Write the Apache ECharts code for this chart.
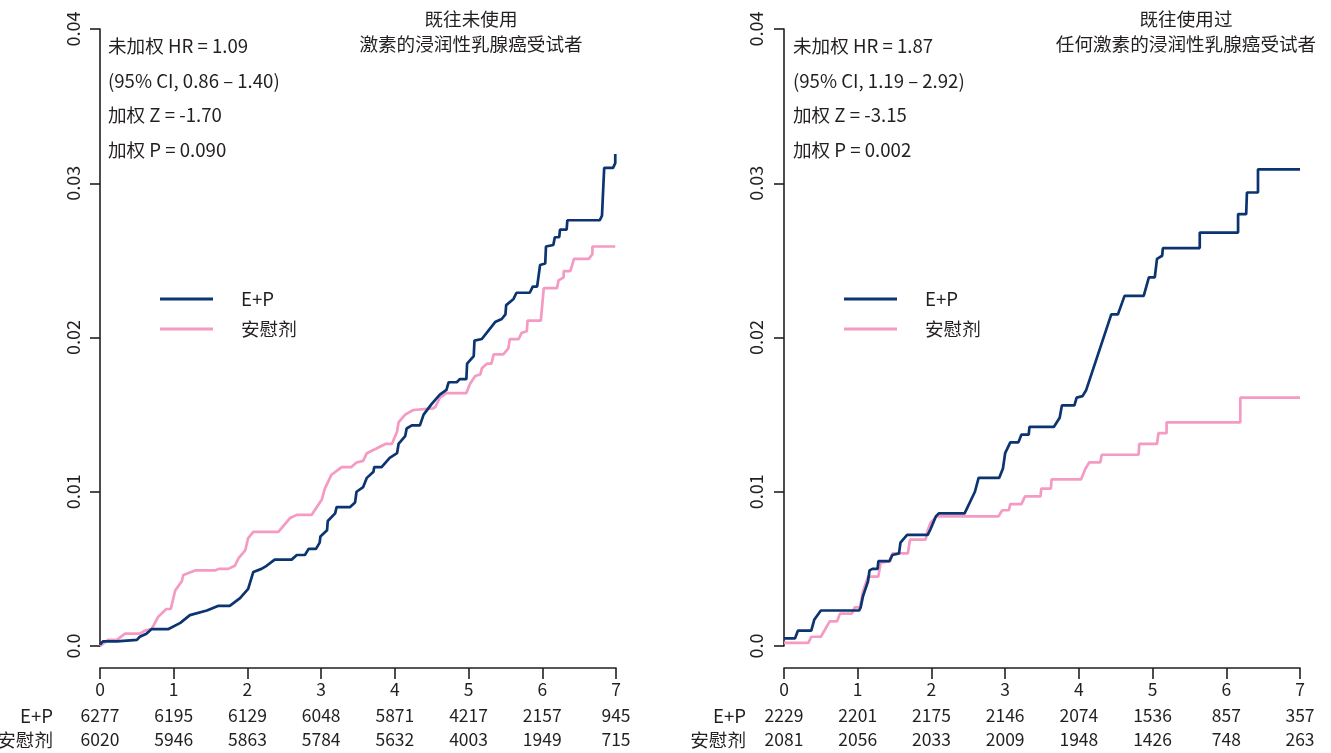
<!DOCTYPE html>
<html>
<head>
<meta charset="utf-8">
<script src="https://cdn.jsdelivr.net/npm/echarts@6/dist/echarts.min.js"></script>
<style>
html,body{margin:0;padding:0;background:#fff;}
#c{width:1331px;height:753px;}
</style>
</head>
<body>
<div id="c"></div>
<script>
// ---- data ----
var years = [0, 1, 2, 3, 4, 5, 6, 7];
var yTicks = [0, 0.01, 0.02, 0.03, 0.04];
var seriesNames = ['E+P', '安慰剂'];

var leftTitle = ['既往未使用', '激素的浸润性乳腺癌受试者'];
var rightTitle = ['既往使用过', '任何激素的浸润性乳腺癌受试者'];
var leftStats = ['未加权 HR = 1.09', '(95% CI, 0.86 – 1.40)', '加权 Z = -1.70', '加权 P = 0.090'];
var rightStats = ['未加权 HR = 1.87', '(95% CI, 1.19 – 2.92)', '加权 Z = -3.15', '加权 P = 0.002'];

var leftRiskEP = [6277, 6195, 6129, 6048, 5871, 4217, 2157, 945];
var leftRiskPL = [6020, 5946, 5863, 5784, 5632, 4003, 1949, 715];
var rightRiskEP = [2229, 2201, 2175, 2146, 2074, 1536, 857, 357];
var rightRiskPL = [2081, 2056, 2033, 2009, 1948, 1426, 748, 263];

var leftEP = [[0,0.0001],[0.04,0.0003],[0.23,0.0003],[0.5,0.0004],[0.54,0.0006],[0.63,0.0008],[0.70,0.0011],[0.93,0.0011],[1.09,0.0015],[1.22,0.0020],[1.45,0.0023],[1.6,0.0026],[1.76,0.0026],[1.9,0.0031],[2.01,0.0037],[2.08,0.0048],[2.19,0.0050],[2.26,0.0052],[2.37,0.0056],[2.6,0.0056],[2.67,0.0059],[2.78,0.0059],[2.83,0.0063],[2.93,0.0063],[2.98,0.0067],[2.99,0.0071],[3.08,0.0075],[3.09,0.0081],[3.19,0.0086],[3.21,0.0090],[3.39,0.0090],[3.46,0.0093],[3.48,0.0100],[3.57,0.0103],[3.62,0.0109],[3.71,0.0113],[3.72,0.0116],[3.82,0.0116],[3.93,0.0122],[4.03,0.0125],[4.05,0.0131],[4.14,0.0136],[4.16,0.0141],[4.23,0.0143],[4.34,0.0143],[4.39,0.0150],[4.5,0.0157],[4.61,0.0163],[4.7,0.0166],[4.73,0.0171],[4.84,0.0171],[4.88,0.0173],[4.97,0.0173],[4.98,0.0183],[5.07,0.0188],[5.08,0.0198],[5.18,0.0199],[5.36,0.0210],[5.45,0.0212],[5.5,0.0215],[5.51,0.0221],[5.61,0.0225],[5.65,0.0229],[5.83,0.0229],[5.87,0.0233],[5.93,0.0233],[5.97,0.0247],[6.04,0.0248],[6.05,0.0259],[6.15,0.0260],[6.17,0.0265],[6.23,0.0265],[6.24,0.0270],[6.33,0.0270],[6.34,0.0276],[6.78,0.0276],[6.81,0.0279],[6.83,0.0300],[6.84,0.0310],[6.96,0.0310],[6.99,0.0313],[6.99,0.0319]];

var leftPL = [[0,0],[0.11,0.0004],[0.23,0.0004],[0.34,0.0008],[0.54,0.0008],[0.61,0.0010],[0.70,0.0011],[0.79,0.0019],[0.9,0.0024],[0.96,0.0024],[1.02,0.0036],[1.11,0.0042],[1.13,0.0046],[1.29,0.0049],[1.56,0.0049],[1.61,0.0050],[1.74,0.0050],[1.83,0.0052],[1.88,0.0057],[1.97,0.0062],[2.01,0.0070],[2.08,0.0074],[2.42,0.0074],[2.58,0.0083],[2.67,0.0085],[2.87,0.0085],[2.94,0.0090],[3.01,0.0095],[3.05,0.0102],[3.14,0.0111],[3.28,0.0116],[3.41,0.0116],[3.48,0.0119],[3.57,0.0120],[3.62,0.0125],[3.75,0.0128],[3.87,0.0131],[3.96,0.0131],[4.03,0.0139],[4.05,0.0145],[4.14,0.0150],[4.25,0.0153],[4.52,0.0154],[4.55,0.0155],[4.61,0.0161],[4.70,0.0164],[4.97,0.0164],[5.02,0.0170],[5.09,0.0175],[5.16,0.0176],[5.18,0.0180],[5.25,0.0183],[5.31,0.0183],[5.34,0.0189],[5.47,0.0189],[5.54,0.0193],[5.56,0.0199],[5.68,0.0199],[5.72,0.0203],[5.79,0.0204],[5.80,0.0211],[5.98,0.0211],[6.02,0.0232],[6.2,0.0232],[6.22,0.0237],[6.29,0.0239],[6.29,0.0243],[6.38,0.0243],[6.43,0.0251],[6.63,0.0251],[6.68,0.0254],[6.68,0.0259],[6.99,0.0259]];

var rightEP = [[0,0.0005],[0.15,0.0005],[0.19,0.0010],[0.37,0.0010],[0.41,0.0017],[0.5,0.0023],[1.02,0.0023],[1.04,0.0025],[1.07,0.0032],[1.14,0.0042],[1.16,0.0049],[1.2,0.0050],[1.27,0.0050],[1.28,0.0055],[1.43,0.0055],[1.47,0.0059],[1.56,0.0060],[1.58,0.0067],[1.67,0.0072],[1.95,0.0072],[1.99,0.0076],[2.06,0.0084],[2.10,0.0086],[2.45,0.0086],[2.59,0.0100],[2.64,0.0109],[2.92,0.0109],[2.97,0.0115],[3.0,0.0125],[3.07,0.0132],[3.18,0.0132],[3.22,0.0137],[3.32,0.0137],[3.33,0.0142],[3.66,0.0142],[3.74,0.0148],[3.77,0.0156],[3.94,0.0156],[3.97,0.0161],[4.05,0.0162],[4.1,0.0166],[4.44,0.0215],[4.53,0.0215],[4.62,0.0227],[4.88,0.0227],[4.95,0.0239],[5.03,0.0239],[5.06,0.0251],[5.13,0.0253],[5.14,0.0258],[5.64,0.0258],[5.64,0.0268],[6.16,0.0268],[6.16,0.0280],[6.27,0.0280],[6.28,0.0294],[6.43,0.0294],[6.43,0.0309],[7.0,0.0309]];

var rightPL = [[0,0.0002],[0.33,0.0002],[0.37,0.0006],[0.5,0.0006],[0.62,0.0016],[0.72,0.0016],[0.76,0.0021],[0.92,0.0021],[0.96,0.0025],[1.03,0.0025],[1.07,0.0035],[1.14,0.0045],[1.28,0.0045],[1.31,0.0054],[1.44,0.0055],[1.47,0.0060],[1.68,0.0060],[1.71,0.0069],[1.92,0.0069],[1.95,0.0075],[1.99,0.0080],[2.07,0.0084],[2.91,0.0084],[2.96,0.0088],[3.05,0.0088],[3.07,0.0092],[3.22,0.0092],[3.27,0.0097],[3.48,0.0097],[3.49,0.0102],[3.62,0.0102],[3.63,0.0108],[4.03,0.0108],[4.09,0.0115],[4.14,0.0119],[4.29,0.0119],[4.31,0.0124],[4.81,0.0124],[4.82,0.0131],[5.06,0.0131],[5.08,0.0138],[5.19,0.0138],[5.19,0.0145],[6.19,0.0145],[6.19,0.0161],[7.0,0.0161]];

// ---- styling ----
var FONT = '"Noto Sans CJK SC", "Noto Sans", sans-serif';
var TXT = '#231f20';
var BLUE = '#0c3471';
var PINK = '#f49ac3';
var FS = 17.5;   // axis / table numbers
var FT = 18.6;   // annotations, titles, legend, row names

var chart = echarts.init(document.getElementById('c'), null, {renderer: 'canvas'});

function xAxes(gridIndex, riskEP, riskPL) {
  var base = {
    gridIndex: gridIndex, type: 'value', min: 0, max: 7, interval: 1,
    position: 'bottom', splitLine: {show: false}
  };
  return [
    Object.assign({}, base, {
      offset: 22,
      axisLine: {show: true, onZero: false, lineStyle: {color: TXT, width: 1.6}},
      axisTick: {show: true, length: 11, lineStyle: {color: TXT, width: 1.6}},
      axisLabel: {color: TXT, fontSize: FS, fontFamily: FONT, margin: 13}
    }),
    Object.assign({}, base, {
      offset: 60,
      axisLine: {show: false, onZero: false}, axisTick: {show: false},
      axisLabel: {color: TXT, fontSize: FS, fontFamily: FONT, margin: 1,
        formatter: function (v) { return String(riskEP[years.indexOf(v)]); }}
    }),
    Object.assign({}, base, {
      offset: 84,
      axisLine: {show: false, onZero: false}, axisTick: {show: false},
      axisLabel: {color: TXT, fontSize: FS, fontFamily: FONT, margin: 1,
        formatter: function (v) { return String(riskPL[years.indexOf(v)]); }}
    })
  ];
}

function yAxis(gridIndex, off) {
  return {
    gridIndex: gridIndex, type: 'value', min: yTicks[0], max: yTicks[yTicks.length - 1], interval: 0.01,
    offset: off, splitLine: {show: false},
    axisLine: {show: true, lineStyle: {color: TXT, width: 1.6}},
    axisTick: {show: true, length: 10, lineStyle: {color: TXT, width: 1.6}},
    axisLabel: {color: TXT, fontSize: 18, fontFamily: FONT, rotate: 90, margin: 14,
      formatter: function (v) { return v === 0 ? '0.0' : v.toFixed(2); }}
  };
}

function textBlock(lines, x, y0, dy, align) {
  return lines.map(function (s, i) {
    return {type: 'text', x: x, y: y0 + i * dy,
      style: {text: s, fill: TXT, font: FT + 'px ' + FONT, textAlign: align, textVerticalAlign: 'middle'}};
  });
}

var graphics = []
  .concat(textBlock(leftStats, 108, 46, 34.7, 'left'))
  .concat(textBlock(rightStats, 793, 46, 34.7, 'left'))
  .concat(textBlock(leftTitle, 471, 19, 25, 'center'))
  .concat(textBlock(rightTitle, 1186, 19, 25, 'center'))
  .concat(textBlock(seriesNames, 53, 716, 24, 'right'))
  .concat(textBlock(seriesNames, 746, 716, 24, 'right'));

function line(name, data, xi, yi, color) {
  return {
    name: name, type: 'line', data: data, xAxisIndex: xi, yAxisIndex: yi,
    showSymbol: false, symbol: 'none', smooth: false, clip: false,
    lineStyle: {color: color, width: 2.7}, itemStyle: {color: color},
    emphasis: {disabled: true}
  };
}

function legend(left) {
  return {
    left: left, top: 289, padding: 0, orient: 'vertical', itemWidth: 53, itemHeight: 3, itemGap: 10,
    icon: 'rect', selectedMode: false, data: seriesNames,
    textStyle: {color: TXT, fontSize: FT, fontFamily: FONT, lineHeight: 20, padding: [0, 0, 0, 23]}
  };
}

chart.setOption({
  animation: false,
  backgroundColor: '#fff',
  textStyle: {fontFamily: FONT},
  grid: [
    {left: 100, top: 29, width: 516, height: 617},
    {left: 784, top: 29, width: 516, height: 617}
  ],
  xAxis: xAxes(0, leftRiskEP, leftRiskPL).concat(xAxes(1, rightRiskEP, rightRiskPL)),
  yAxis: [yAxis(0, 4), yAxis(1, 5)],
  legend: [legend(160), legend(844)],
  series: [
    line(seriesNames[1], leftPL, 0, 0, PINK),
    line(seriesNames[0], leftEP, 0, 0, BLUE),
    line(seriesNames[1], rightPL, 3, 1, PINK),
    line(seriesNames[0], rightEP, 3, 1, BLUE)
  ],
  graphic: graphics
});
</script>
</body>
</html>
